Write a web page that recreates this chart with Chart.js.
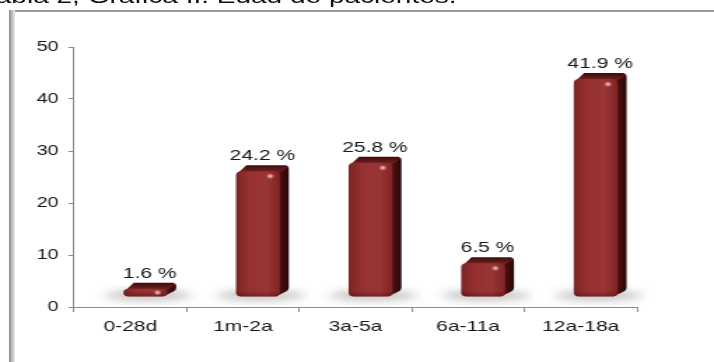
<!DOCTYPE html>
<html>
<head>
<meta charset="utf-8">
<script src="https://cdn.jsdelivr.net/npm/chart.js@4/dist/chart.umd.min.js"></script>
<style>
  html, body { margin: 0; padding: 0; background: #fff; overflow: hidden; }
  body { width: 714px; height: 362px; position: relative; font-family: "Liberation Sans", Arial, sans-serif; }
  #frame { position: absolute; left: 9px; top: 10px; width: 800px; height: 400px; border-top: 2px solid #9a9a9a; }
  #frameLeft { position: absolute; left: 9px; top: 10px; width: 6px; height: 400px;
    background: linear-gradient(to right, #8a8a8a, #b8b8b8 45%, #ececec); }
  /* the whole figure is drawn a bit wide, so the drawing is stretched sideways */
  #wide { position: absolute; left: 0; top: 0; width: 510px; height: 362px;
    transform: scaleX(1.4); transform-origin: 0 0; }
  #title { position: absolute; left: -13px; top: -14px; white-space: nowrap;
    font-size: 20px; line-height: 20px; color: #111; }
  #chart { position: absolute; left: 0; top: 0; width: 510px; height: 362px; }
</style>
</head>
<body>
<div id="frame"></div>
<div id="frameLeft"></div>
<div id="wide">
  <div id="title">Tabla 2, Gráfica II. Edad de pacientes.</div>
  <canvas id="chart" width="510" height="362"></canvas>
</div>
<script>
const ageGroups = ['0-28d', '1m-2a', '3a-5a', '6a-11a', '12a-18a'];
const patientPct = [1.6, 24.2, 25.8, 6.5, 41.9];
const yTicks = [0, 10, 20, 30, 40, 50];

const axisGrey = '#8c8c8c';
const textColor = '#161616';
const fontFamily = '"Liberation Sans", Arial, sans-serif';

// 3d look: front face pushed right/up, plus side and top faces
const SHIFT_X = 10.7, SHIFT_Y = -10;
const DEPTH_X = 6.4, DEPTH_Y = -6;

function roundRectPath(ctx, x, y, w, h, r) {
    r = Math.min(r, h / 2, w / 2);
    ctx.beginPath();
    ctx.moveTo(x + r, y);
    ctx.lineTo(x + w - r, y);
    ctx.quadraticCurveTo(x + w, y, x + w, y + r);
    ctx.lineTo(x + w, y + h - r);
    ctx.quadraticCurveTo(x + w, y + h, x + w - r, y + h);
    ctx.lineTo(x + r, y + h);
    ctx.quadraticCurveTo(x, y + h, x, y + h - r);
    ctx.lineTo(x, y + r);
    ctx.quadraticCurveTo(x, y, x + r, y);
    ctx.closePath();
}

const bars3d = {
    id: 'bars3d',
    afterDatasetsDraw(chart) {
        const ctx = chart.ctx;
        const meta = chart.getDatasetMeta(0);
        meta.data.forEach((bar, i) => {
            const p = bar.getProps(['x', 'y', 'base', 'width'], true);
            const left = p.x - p.width / 2 + SHIFT_X;
            const right = p.x + p.width / 2 + SHIFT_X;
            const top = p.y + SHIFT_Y;
            const bottom = p.base + SHIFT_Y;
            const w = right - left;
            const h = bottom - top;

            ctx.save();

            // soft shadow on the floor
            ctx.filter = 'blur(4px)';
            ctx.fillStyle = 'rgba(0,0,0,0.25)';
            ctx.beginPath();
            ctx.ellipse(left + w / 2 + 2, bottom - 1, w * 1.0, 5, 0, 0, Math.PI * 2);
            ctx.fill();
            ctx.filter = 'none';

            // side face
            let g = ctx.createLinearGradient(right, 0, right + DEPTH_X, 0);
            g.addColorStop(0, '#4c1010');
            g.addColorStop(1, '#2a0606');
            ctx.fillStyle = g;
            ctx.beginPath();
            ctx.moveTo(right - 2, top + 1);
            ctx.lineTo(right - 2 + DEPTH_X, top + DEPTH_Y + 1);
            ctx.quadraticCurveTo(right + DEPTH_X, top + DEPTH_Y + 1, right + DEPTH_X, top + DEPTH_Y + 4);
            ctx.lineTo(right + DEPTH_X, bottom + DEPTH_Y - 3);
            ctx.quadraticCurveTo(right + DEPTH_X, bottom + DEPTH_Y, right + DEPTH_X - 2, bottom + DEPTH_Y + 1);
            ctx.lineTo(right - 3, bottom);
            ctx.closePath();
            ctx.fill();

            // top face
            g = ctx.createLinearGradient(0, top + DEPTH_Y, 0, top);
            g.addColorStop(0, '#3e0c0c');
            g.addColorStop(1, '#6e1e1e');
            ctx.fillStyle = g;
            ctx.beginPath();
            ctx.moveTo(left + 2, top + 1);
            ctx.lineTo(left + DEPTH_X + 1, top + DEPTH_Y);
            ctx.lineTo(right + DEPTH_X - 2, top + DEPTH_Y);
            ctx.lineTo(right + DEPTH_X, top + DEPTH_Y + 2);
            ctx.lineTo(right, top + 1);
            ctx.closePath();
            ctx.fill();

            // front face
            g = ctx.createLinearGradient(left, 0, right, 0);
            g.addColorStop(0, '#7c2323');
            g.addColorStop(0.3, '#953131');
            g.addColorStop(0.7, '#9a3535');
            g.addColorStop(1, '#802424');
            ctx.fillStyle = g;
            roundRectPath(ctx, left, top, w, h, 4);
            ctx.fill();

            // darker rim along the bottom edge
            g = ctx.createLinearGradient(0, bottom - 6, 0, bottom);
            g.addColorStop(0, 'rgba(60,0,0,0)');
            g.addColorStop(1, 'rgba(60,0,0,0.35)');
            ctx.fillStyle = g;
            roundRectPath(ctx, left, top, w, h, 4);
            ctx.fill();

            // small glint near the top right
            const hx = right - w * 0.22, hy = top + Math.min(5, h / 2);
            g = ctx.createRadialGradient(hx, hy, 0, hx, hy, 3);
            g.addColorStop(0, 'rgba(255,215,215,0.95)');
            g.addColorStop(1, 'rgba(255,215,215,0)');
            ctx.fillStyle = g;
            ctx.fillRect(hx - 3, hy - 3, 6, 6);

            // value label
            ctx.fillStyle = textColor;
            ctx.font = '15px ' + fontFamily;
            ctx.textAlign = 'center';
            ctx.textBaseline = 'alphabetic';
            ctx.fillText(patientPct[i].toFixed(1) + ' %', left + w / 2 + DEPTH_X / 2, top + DEPTH_Y - 5);

            ctx.restore();
        });
    }
};

new Chart(document.getElementById('chart'), {
    type: 'bar',
    data: {
        labels: ageGroups,
        datasets: [{
            data: patientPct,
            backgroundColor: 'rgba(0,0,0,0)',
            borderWidth: 0,
            categoryPercentage: 1,
            barPercentage: 0.39
        }]
    },
    options: {
        responsive: false,
        animation: false,
        events: [],
        layout: { padding: { left: 12.9, right: 55, top: 47, bottom: 15 } },
        plugins: { legend: { display: false }, tooltip: { enabled: false } },
        scales: {
            x: {
                grid: { drawOnChartArea: false, tickLength: 5, color: axisGrey },
                border: { color: axisGrey },
                ticks: { color: textColor, padding: 6, font: { family: fontFamily, size: 15 } },
                afterFit: s => { s.height = 40; }
            },
            y: {
                min: 0,
                max: 50,
                afterBuildTicks: s => { s.ticks = yTicks.map(v => ({ value: v })); },
                grid: { drawOnChartArea: false, tickLength: 4, color: axisGrey },
                border: { color: axisGrey },
                ticks: { color: textColor, padding: 7, font: { family: fontFamily, size: 14 } },
                afterFit: s => { s.width = 40; }
            }
        }
    },
    plugins: [bars3d]
});
</script>
</body>
</html>
